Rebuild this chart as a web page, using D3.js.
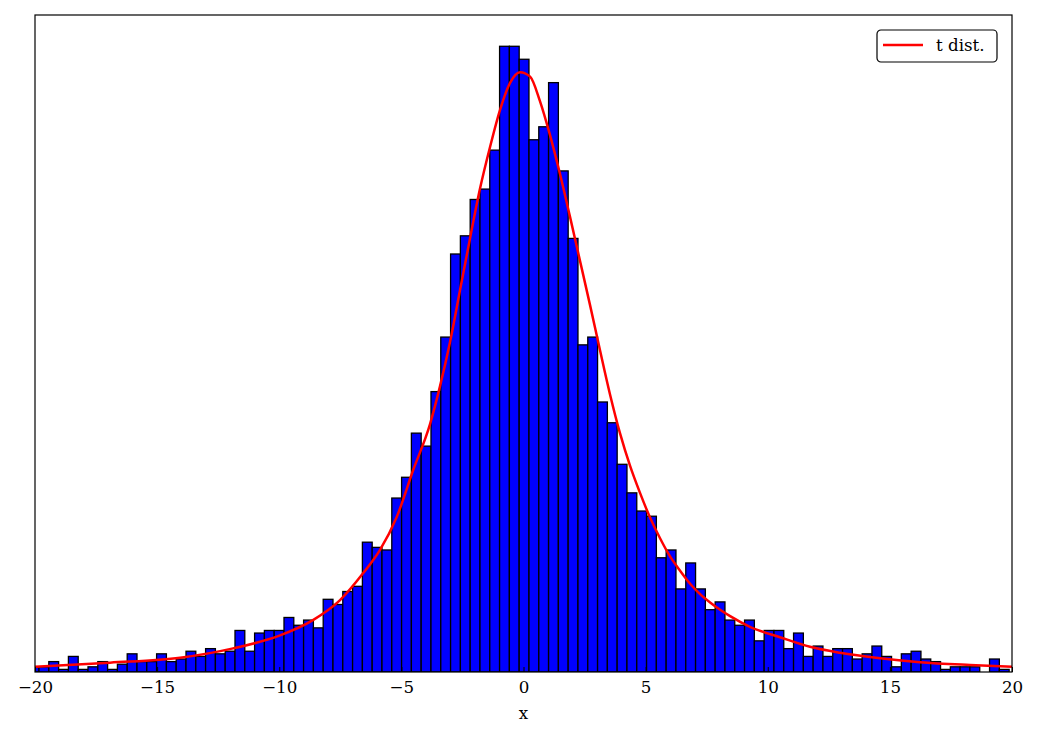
<!DOCTYPE html>
<html>
<head>
<meta charset="utf-8">
<script src="https://cdn.jsdelivr.net/npm/d3@7"></script>
<style>
  body { margin: 0; background: #fff; }
  svg { display: block; font-family: "DejaVu Serif", serif; }
</style>
</head>
<body>
<script>
var w = 1039;
var h = 739;

var margin = {
  top: 15,
  bottom: 67,
  left: 35,
  right: 27
}

var width = w - margin.left - margin.right;
var height = h - margin.top - margin.bottom;

// histogram: first bin edge, bin width, counts per bin
var binStart = -20.237;
var binWidth = 0.4012;
var counts = [
  2, 2, 4, 1, 6, 1, 2, 4, 1, 3,
  7, 4, 4, 7, 4, 5, 8, 6, 9, 7,
  8, 16, 8, 15, 16, 16, 21, 18, 20, 17,
  28, 26, 31, 33, 50, 48, 47, 67, 75, 92,
  87, 108, 129, 161, 168, 182, 186, 201, 241, 241,
  236, 205, 210, 227, 193, 167, 126, 129, 104, 96,
  80, 69, 62, 60, 44, 47, 32, 42, 32, 24,
  27, 20, 18, 20, 12, 16, 16, 9, 15, 6,
  10, 6, 9, 9, 5, 7, 10, 6, 2, 7,
  8, 5, 4, 1, 2, 2, 2, 0, 5, 1,
  0
];

// fitted t distribution curve (same units as counts)
var curveX = [-20, -16.93, -14.06, -11.89, -9.97, -8.62, -7.51, -6.57, -5.88, -5.19,
  -4.52, -3.83, -3.42, -3.01, -2.60, -2.19, -1.78, -1.37, -0.96, -0.55,
  -0.14, 0.27, 0.67, 1.08, 1.49, 1.90, 2.31, 2.72, 3.13, 3.54,
  3.95, 4.36, 4.77, 5.18, 5.59, 6.00, 6.41, 6.82, 7.23, 7.64,
  8.05, 8.46, 9.27, 10.5, 11.73, 12.96, 14.60, 16.23, 18.28, 20];
var curveY = [2.0, 3.6, 5.5, 9.1, 14.1, 20, 27.7, 38, 46.9, 59.7,
  77.7, 95.4, 110, 127, 147, 167, 186.2, 202.2, 216.5, 226.9,
  231, 229.3, 220, 207, 192, 175.5, 158.5, 141.5, 124, 107,
  92, 79.5, 69, 59.5, 51.5, 44.5, 39, 34, 30, 26.8,
  24, 21.5, 17.4, 13.4, 9.7, 7.4, 5.3, 3.8, 2.7, 2.0];

var xTicks = [-20, -15, -10, -5, 0, 5, 10, 15, 20];
var legendLabel = "t dist.";
var xLabel = "x";

var bins = counts.map(function(c, i) {
  return { x0: binStart + i * binWidth, x1: binStart + (i + 1) * binWidth, n: c };
});
var line = curveX.map(function(x, i) { return { x: x, y: curveY[i] }; });

var svg = d3.select("body")
  .append("svg")
  .attr("width", w)
  .attr("height", h)
  .append("g")
  .attr("transform", "translate(" + margin.left + "," + margin.top + ")");

var x = d3.scaleLinear()
  .domain([-20, 20])
  .range([0, width]);

var y = d3.scaleLinear()
  .domain([0, d3.max(counts) * 1.05])
  .range([height, 0]);

svg.append("clipPath")
  .attr("id", "clip")
  .append("rect")
  .attr("width", width)
  .attr("height", height);

var plot = svg.append("g").attr("clip-path", "url(#clip)");

plot.selectAll("rect.bar")
  .data(bins)
  .enter()
  .append("rect")
  .attr("class", "bar")
  .attr("x", function(d) { return x(d.x0); })
  .attr("width", function(d) { return x(d.x1) - x(d.x0); })
  .attr("y", function(d) { return y(d.n); })
  .attr("height", function(d) { return height - y(d.n); })
  .style("fill", "#0000ff")
  .style("stroke", "#000")
  .style("stroke-width", 1.3);

plot.append("path")
  .datum(line)
  .attr("d", d3.line()
    .x(function(d) { return x(d.x); })
    .y(function(d) { return y(d.y); })
    .curve(d3.curveMonotoneX))
  .style("fill", "none")
  .style("stroke", "#ff0000")
  .style("stroke-width", 2.5);

// x axis, ticks pointing inwards
var xAxis = svg.append("g")
  .attr("transform", "translate(0," + height + ")")
  .call(d3.axisBottom(x)
    .tickValues(xTicks)
    .tickSizeInner(-5)
    .tickSizeOuter(0)
    .tickPadding(9)
    .tickFormat(d3.format("d")));
xAxis.select(".domain").remove();
xAxis.selectAll("line").style("stroke", "#000").style("stroke-width", 1);
xAxis.selectAll("text")
  .style("font-family", "DejaVu Serif")
  .style("font-size", "16.7px")
  .style("fill", "#000");

svg.append("text")
  .attr("x", width / 2)
  .attr("y", height + 47)
  .attr("text-anchor", "middle")
  .style("font-size", "16.7px")
  .text(xLabel);

// frame
svg.append("rect")
  .attr("width", width)
  .attr("height", height)
  .style("fill", "none")
  .style("stroke", "#000")
  .style("stroke-width", 1.2);

// legend
var legend = svg.append("g")
  .attr("transform", "translate(" + (width - 135) + ",15)");
legend.append("rect")
  .attr("width", 120)
  .attr("height", 32)
  .attr("rx", 4)
  .style("fill", "#fff")
  .style("stroke", "#000")
  .style("stroke-width", 1.2);
legend.append("line")
  .attr("x1", 6)
  .attr("x2", 46)
  .attr("y1", 15)
  .attr("y2", 15)
  .style("stroke", "#ff0000")
  .style("stroke-width", 2.5);
legend.append("text")
  .attr("x", 59)
  .attr("y", 21)
  .style("font-size", "16.7px")
  .text(legendLabel);
</script>
</body>
</html>
